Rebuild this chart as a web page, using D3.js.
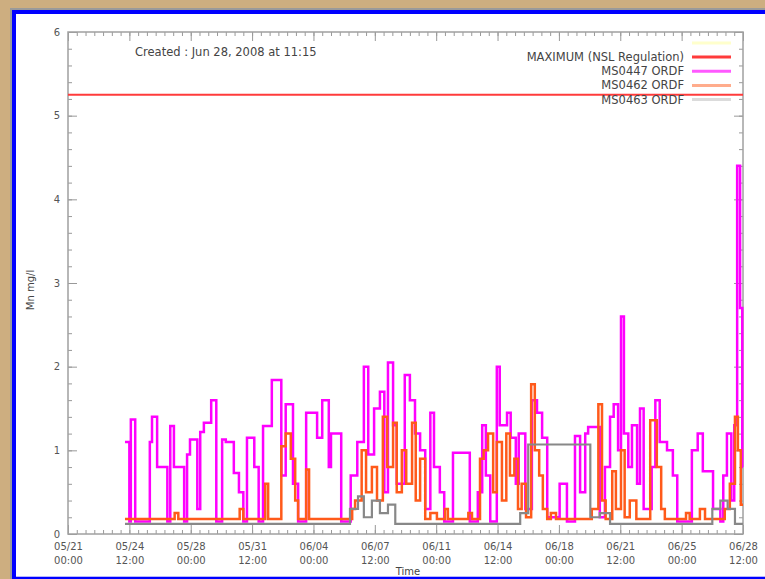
<!DOCTYPE html>
<head>
  <meta charset="utf-8">
  <style>
    body { margin: 0; }
    svg text { font-family: "DejaVu Sans", Arial, sans-serif; fill: #444; }
    svg .tick text { font-size: 10px; fill: #555; }
    svg .axis path { display: none; }
    svg .axis line { stroke: #999; }
  </style>
</head>
<body>
<script src="https://d3js.org/d3.v7.min.js"></script>
<script>
// ---- data ----
var legendNames = ["MAXIMUM (NSL Regulation)", "MS0447 ORDF", "MS0462 ORDF", "MS0463 ORDF"];
var legendColors = ["#ff3b3b", "#ff00ff", "#ff5a1a", "#888888"];
var maxLevel = 5.25;
var createdText = "Created : Jun 28, 2008 at 11:15";
var startTime = new Date(2008, 4, 21, 0, 0);   // 05/21 00:00
var endHour = 924;                              // 06/28 12:00
var xTickHours = d3.range(0, 925, 84);          // every 3.5 days
var yTicks = [0, 1, 2, 3, 4, 5, 6];

// hours after start, value (mg/l)
var ms0447Hours = [78, 84, 86, 92, 112, 115, 122, 136, 140, 145, 159, 163, 167, 177, 181, 186, 196, 203, 211, 216,
  227, 234, 240, 245, 255, 261, 267, 279, 292, 298, 308, 315, 326, 341, 348, 357, 360, 374, 387, 396,
  405, 411, 419, 427, 433, 438, 445, 450, 461, 468, 475, 482, 489, 496, 501, 509, 515, 527, 550, 561,
  567, 572, 578, 587, 591, 601, 606, 613, 617, 626, 635, 642, 649, 656, 673, 683, 694, 701, 708, 712,
  728, 735, 742, 747, 753, 757, 761, 767, 772, 779, 783, 788, 799, 804, 810, 820, 828, 834, 854, 862,
  869, 883, 893, 897, 902, 908, 912, 916, 920, 923];
var ms0447Values = [1.1, 0.15, 1.37, 0.15, 1.1, 1.4, 0.8, 0.15, 1.29, 0.8, 0.15, 0.95, 1.13, 0.3, 1.22, 1.33, 1.6, 0.15, 1.13, 1.1,
  0.73, 0.5, 0.15, 1.15, 0.8, 0.15, 1.29, 1.84, 0.7, 1.55, 0.6, 0.15, 1.45, 1.15, 1.6, 0.8, 1.2, 0.15, 0.7, 1.1,
  2.0, 0.95, 1.5, 1.7, 0.5, 2.05, 1.3, 0.6, 1.9, 1.6, 1.2, 1.0, 0.3, 1.45, 0.8, 0.5, 0.15, 0.97, 0.15, 0.5,
  1.3, 0.7, 0.15, 2.0, 1.3, 1.45, 1.15, 0.6, 1.2, 0.3, 1.6, 1.45, 1.15, 0.2, 0.6, 0.15, 1.17, 0.5, 1.2, 1.28,
  0.2, 0.8, 1.4, 1.55, 1.0, 2.6, 1.2, 0.8, 1.3, 0.6, 1.5, 0.3, 0.8, 1.6, 1.1, 1.0, 0.7, 0.15, 1.0, 1.2,
  0.75, 0.3, 0.15, 0.7, 1.2, 0.4, 1.3, 4.4, 2.7, 0.8];

var ms0462Hours = [78, 146, 151, 235, 240, 270, 274, 292, 298, 305, 311, 315, 326, 330, 389, 393, 402, 408, 416, 423,
  431, 437, 445, 450, 457, 463, 471, 476, 482, 489, 496, 505, 516, 520, 548, 553, 564, 569, 575, 582,
  587, 594, 600, 605, 611, 616, 621, 627, 634, 639, 645, 650, 656, 661, 668, 717, 726, 731, 736, 745,
  750, 757, 762, 769, 778, 797, 806, 812, 817, 846, 851, 865, 872, 899, 906, 913, 917, 921];
var ms0462Values = [0.18, 0.25, 0.18, 0.3, 0.18, 0.6, 0.18, 1.05, 1.2, 0.9, 0.4, 0.18, 0.77, 0.18, 0.3, 0.4, 1.0, 0.5, 0.8, 0.4,
  1.4, 0.8, 1.33, 0.5, 1.0, 0.6, 1.33, 0.4, 0.9, 0.18, 0.25, 0.18, 0.3, 0.18, 0.25, 0.18, 0.9, 1.0, 1.2, 0.5,
  1.1, 0.4, 1.2, 0.7, 0.9, 0.3, 0.6, 0.2, 1.79, 1.0, 0.7, 0.3, 0.18, 0.25, 0.18, 0.3, 1.55, 0.4, 0.18, 0.75,
  0.3, 1.0, 0.2, 0.4, 0.18, 1.36, 0.8, 0.3, 0.18, 0.25, 0.18, 0.3, 0.18, 0.3, 0.6, 1.4, 1.0, 0.35];

var ms0463Hours = [78, 386, 397, 405, 416, 427, 438, 448, 619, 630, 715, 728, 742, 882, 893, 903, 913];
var ms0463Values = [0.12, 0.3, 0.45, 0.2, 0.4, 0.25, 0.35, 0.12, 0.25, 1.07, 0.2, 0.25, 0.12, 0.3, 0.4, 0.3, 0.12];

// ---- layout ----
var W = 765, H = 579;
var plot = { left: 68, right: 743, top: 32, bottom: 534 };

var svg = d3.select("body").append("svg")
    .attr("width", W)
    .attr("height", H);

// window frame
svg.append("rect").attr("width", W).attr("height", H).attr("fill", "#cdae80");
svg.append("rect").attr("x", 10).attr("y", 8).attr("width", W - 10).attr("height", H - 8).attr("fill", "#9a9a9a");
svg.append("rect").attr("x", 12).attr("y", 10).attr("width", W - 12).attr("height", H - 10).attr("fill", "#0000ff");
svg.append("rect").attr("x", 16).attr("y", 14).attr("width", W - 16).attr("height", H - 16).attr("fill", "#b8b8ff");
svg.append("rect").attr("x", 16).attr("y", 14).attr("width", W - 16).attr("height", H - 17).attr("fill", "#ffffff");

var toDate = function (h) { return d3.timeHour.offset(startTime, h); };

var xScale = d3.scaleTime()
    .domain([startTime, toDate(endHour)])
    .range([plot.left, plot.right]);
var yScale = d3.scaleLinear().domain([0, 6]).range([plot.bottom, plot.top]);

var fmtDay = d3.timeFormat("%m/%d"), fmtTime = d3.timeFormat("%H:%M");
var xMajor = xTickHours.map(toDate);
var xMinor = d3.range(0, endHour + 1, 12).map(toDate);
var yMinor = d3.range(0, 30.5, 1).map(function (d) { return d / 5; });

// minor ticks (no labels)
svg.append("g").attr("class", "axis").attr("transform", "translate(0," + plot.bottom + ")")
    .call(d3.axisBottom(xScale).tickValues(xMinor).tickSize(-4).tickFormat(""));
svg.append("g").attr("class", "axis").attr("transform", "translate(0," + plot.top + ")")
    .call(d3.axisTop(xScale).tickValues(xMinor).tickSize(-4).tickFormat(""));
svg.append("g").attr("class", "axis").attr("transform", "translate(" + plot.left + ",0)")
    .call(d3.axisLeft(yScale).tickValues(yMinor).tickSize(-4).tickFormat(""));
svg.append("g").attr("class", "axis").attr("transform", "translate(" + plot.right + ",0)")
    .call(d3.axisRight(yScale).tickValues(yMinor).tickSize(-4).tickFormat(""));

// major ticks
var xAxis = svg.append("g").attr("class", "axis").attr("transform", "translate(0," + plot.bottom + ")")
    .call(d3.axisBottom(xScale).tickValues(xMajor).tickSize(-9).tickFormat(""));
xAxis.selectAll(".tick").append("text")
    .attr("y", 16)
    .attr("text-anchor", "middle")
    .text(function (d) { return fmtDay(d); });
xAxis.selectAll(".tick").append("text")
    .attr("y", 30)
    .attr("text-anchor", "middle")
    .text(function (d) { return fmtTime(d); });

svg.append("g").attr("class", "axis").attr("transform", "translate(0," + plot.top + ")")
    .call(d3.axisTop(xScale).tickValues(xMajor).tickSize(-9).tickFormat(""));
svg.append("g").attr("class", "axis").attr("transform", "translate(" + plot.left + ",0)")
    .call(d3.axisLeft(yScale).tickValues(yTicks).tickSize(-9).tickPadding(8).tickFormat(d3.format("d")));
svg.append("g").attr("class", "axis").attr("transform", "translate(" + plot.right + ",0)")
    .call(d3.axisRight(yScale).tickValues(yTicks).tickSize(-9).tickFormat(""));

// border
svg.append("rect")
    .attr("x", plot.left).attr("y", plot.top)
    .attr("width", plot.right - plot.left).attr("height", plot.bottom - plot.top)
    .attr("fill", "none").attr("stroke", "#a0a0a0").attr("stroke-width", 1.5);

// series
var stepLine = d3.line()
    .curve(d3.curveStepAfter)
    .x(function (d) { return xScale(toDate(d[0])); })
    .y(function (d) { return yScale(d[1]); });

function pairs(hours, values) {
  var p = hours.map(function (h, i) { return [h, values[i]]; });
  p.push([endHour, values[values.length - 1]]);
  return p;
}

svg.append("path")
    .attr("d", stepLine([[0, maxLevel], [endHour, maxLevel]]))
    .attr("fill", "none").attr("stroke", legendColors[0]).attr("stroke-width", 2);

var seriesWidths = [2.5, 2.5, 2.2];
[[ms0447Hours, ms0447Values], [ms0462Hours, ms0462Values], [ms0463Hours, ms0463Values]].forEach(function (s, i) {
  svg.append("path")
      .attr("d", stepLine(pairs(s[0], s[1])))
      .attr("fill", "none")
      .attr("stroke", legendColors[i + 1])
      .attr("stroke-width", seriesWidths[i])
      .attr("stroke-linejoin", "miter");
});

// created text
svg.append("text")
    .attr("x", 135).attr("y", 56)
    .style("font-size", "11.5px")
    .text(createdText);

// legend
var legend = svg.append("g");
legend.append("line")
    .attr("x1", 692).attr("x2", 731).attr("y1", 43).attr("y2", 43)
    .attr("stroke", "#ffffcc").attr("stroke-width", 3);
var legendOpacity = [1, 0.65, 0.5, 0.3];
legendNames.forEach(function (name, i) {
  var y = 57 + i * 14.2;
  legend.append("text")
      .attr("x", 684).attr("y", y + 4)
      .attr("text-anchor", "end")
      .style("font-size", "11.5px")
      .text(name);
  legend.append("line")
      .attr("x1", 692).attr("x2", 731).attr("y1", y).attr("y2", y)
      .attr("stroke", legendColors[i])
      .attr("stroke-opacity", legendOpacity[i])
      .attr("stroke-width", 3);
});

// axis titles
svg.append("text")
    .attr("transform", "translate(34,290) rotate(-90)")
    .attr("text-anchor", "middle")
    .style("font-size", "10px")
    .text("Mn mg/l");
svg.append("text")
    .attr("x", 408).attr("y", 575)
    .attr("text-anchor", "middle")
    .style("font-size", "10px")
    .text("Time");
</script>
</body>
</html>
